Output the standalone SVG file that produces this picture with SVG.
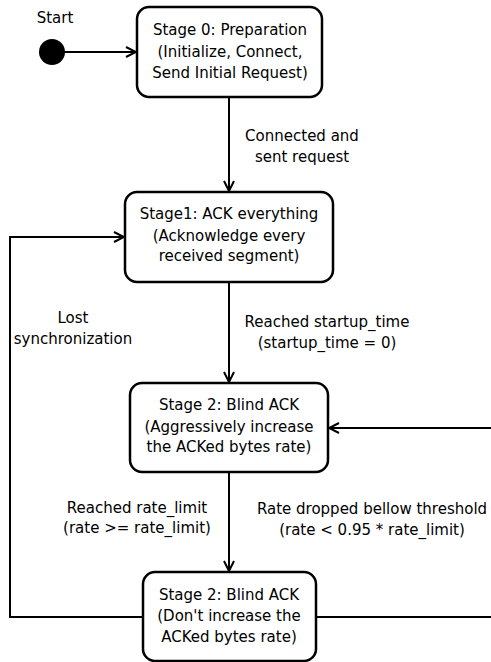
<svg xmlns="http://www.w3.org/2000/svg" width="491" height="662" viewBox="0 0 491 662">
<defs>
<style>
text{font-family:"DejaVu Sans",sans-serif;font-size:15px;fill:#000;text-anchor:middle}
.node rect{fill:#fff;stroke:#000;stroke-width:2.5}
.edge{fill:none;stroke:#000;stroke-width:2}
</style>
<marker id="arr" viewBox="0 0 12 12" refX="11" refY="6" markerWidth="12" markerHeight="12" markerUnits="userSpaceOnUse" orient="auto">
<path d="M1,1 L11,6 L1,11" fill="none" stroke="#000" stroke-width="2"/>
</marker>
</defs>
<rect width="491" height="662" fill="#fff"/>
<g id="connectors">
<line class="edge" x1="60" y1="52" x2="136" y2="52" marker-end="url(#arr)"/>
<line class="edge" x1="229" y1="97" x2="229" y2="191" marker-end="url(#arr)"/>
<line class="edge" x1="229" y1="282" x2="229" y2="382" marker-end="url(#arr)"/>
<line class="edge" x1="229" y1="472" x2="229" y2="571" marker-end="url(#arr)"/>
<polyline class="edge" points="143,617 10,617 10,237 124,237" marker-end="url(#arr)"/>
<polyline class="edge" points="316,617 491,617"/>
<line class="edge" x1="491" y1="428" x2="329" y2="428" marker-end="url(#arr)"/>
<text x="302" y="141">Connected and</text>
<text x="302" y="162">sent request</text>
<text x="73" y="323">Lost</text>
<text x="73" y="344">synchronization</text>
<text x="327" y="327">Reached startup_time</text>
<text x="327" y="348">(startup_time = 0)</text>
<text x="137" y="513">Reached rate_limit</text>
<text x="137" y="533">(rate &gt;= rate_limit)</text>
<text x="372" y="514">Rate dropped bellow threshold</text>
<text x="372" y="535">(rate &lt; 0.95 * rate_limit)</text>
</g>
<g id="start">
<circle cx="52" cy="52" r="13" fill="#000"/>
<text x="55" y="23">Start</text>
</g>
<g id="stage0" class="node">
<rect x="137" y="7" width="185" height="90" rx="12"/>
<text x="230" y="35">Stage 0: Preparation</text>
<text x="230" y="57">(Initialize, Connect,</text>
<text x="230" y="78">Send Initial Request)</text>
</g>
<g id="stage1" class="node">
<rect x="125" y="192" width="208" height="90" rx="12"/>
<text x="229" y="219">Stage1: ACK everything</text>
<text x="229" y="241">(Acknowledge every</text>
<text x="229" y="261">received segment)</text>
</g>
<g id="stage2a" class="node">
<rect x="130" y="383" width="198" height="89" rx="12"/>
<text x="229" y="410">Stage 2: Blind ACK</text>
<text x="229" y="432">(Aggressively increase</text>
<text x="229" y="452">the ACKed bytes rate)</text>
</g>
<g id="stage2b" class="node">
<rect x="143" y="572" width="173" height="89" rx="12"/>
<text x="229" y="600">Stage 2: Blind ACK</text>
<text x="229" y="621">(Don't increase the</text>
<text x="229" y="642">ACKed bytes rate)</text>
</g>
</svg>
